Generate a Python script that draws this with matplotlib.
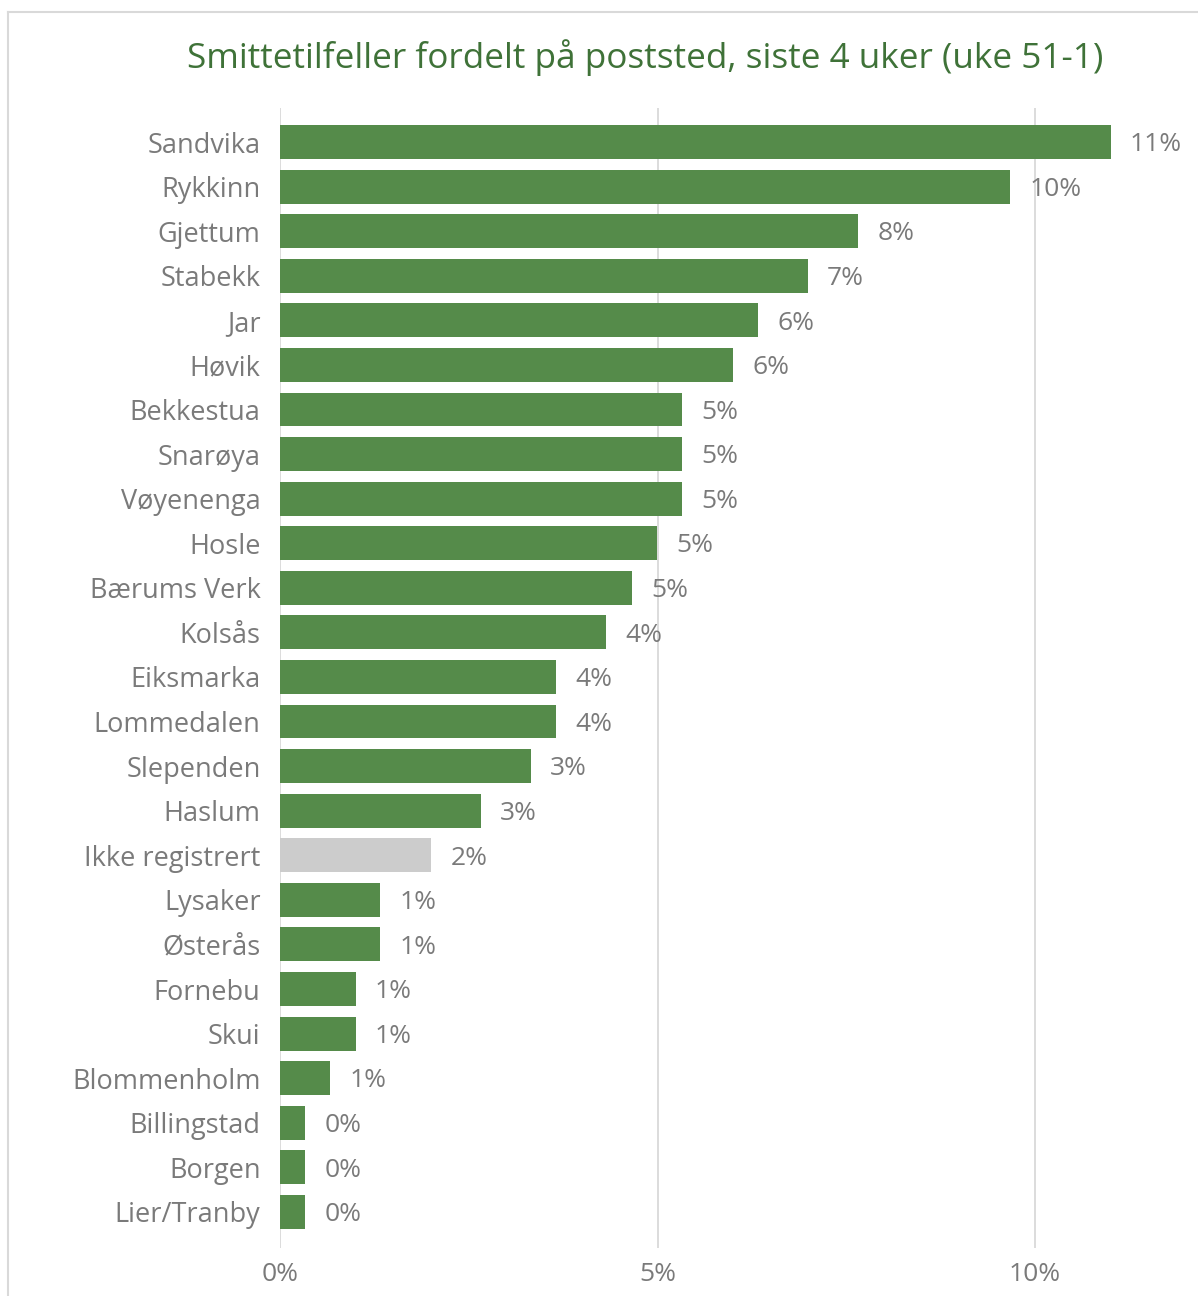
import numpy as np
import matplotlib.pyplot as plt
from matplotlib.lines import Line2D

places = ['Sandvika', 'Rykkinn', 'Gjettum', 'Stabekk', 'Jar', 'Høvik', 'Bekkestua',
          'Snarøya', 'Vøyenenga', 'Hosle', 'Bærums Verk', 'Kolsås', 'Eiksmarka',
          'Lommedalen', 'Slependen', 'Haslum', 'Ikke registrert', 'Lysaker', 'Østerås',
          'Fornebu', 'Skui', 'Blommenholm', 'Billingstad', 'Borgen', 'Lier/Tranby']
share = [11.0, 9.67, 7.66, 6.99, 6.33, 6.0, 5.32, 5.32, 5.32, 4.99, 4.66, 4.32, 3.66,
         3.66, 3.32, 2.66, 2.0, 1.33, 1.33, 1.0, 1.0, 0.66, 0.33, 0.33, 0.33]
labels = ['11%', '10%', '8%', '7%', '6%', '6%', '5%', '5%', '5%', '5%', '5%', '4%', '4%',
          '4%', '3%', '3%', '2%', '1%', '1%', '1%', '1%', '1%', '0%', '0%', '0%']

plt.rcParams['font.family'] = ['Open Sans', 'DejaVu Sans']

green = '#558B4A'
grey_bar = '#CCCCCC'
txt = '#7A7A7A'

W, H = 1198, 1296
fig = plt.figure(figsize=(W / 100, H / 100), dpi=100)
ax = fig.add_axes([280 / W, 1 - 1248 / H, 906 / W, (1248 - 108) / H])

y = np.arange(len(places))
colors = [grey_bar if p == 'Ikke registrert' else green for p in places]
ax.barh(y, share, height=0.76, color=colors, zorder=2)

for yi, v, lab in zip(y, share, labels):
    ax.annotate(lab, (v, yi), xytext=(14, -2), textcoords='offset points',
                va='center', ha='left', fontsize=19, color=txt)

ax.set_xlim(0, 12)
ax.set_ylim(24.81, -0.763)
ax.set_yticks(y)
ax.set_yticklabels(places, fontsize=19.5, color=txt)
ax.set_xticks([0, 5, 10])
ax.set_xticklabels(['0%', '5%', '10%'], fontsize=19, color=txt)
ax.tick_params(length=0)
ax.tick_params(axis='y', pad=14)
ax.tick_params(axis='x', pad=10)
ax.grid(axis='x', color='#D9D9D9', linewidth=1.3, zorder=0)
for s in ax.spines.values():
    s.set_visible(False)

fig.text(645 / W, 1 - 58 / H, 'Smittetilfeller fordelt på poststed, siste 4 uker (uke 51-1)',
         ha='center', va='center', fontsize=25.3, color='#3F7238')

fig.add_artist(Line2D([8 / W, 8 / W], [1 - 12 / H, 0], color='#D9D9D9', linewidth=1.5))
fig.add_artist(Line2D([8 / W, 1], [1 - 12 / H, 1 - 12 / H], color='#D9D9D9', linewidth=1.5))

fig.savefig('out.png', dpi=100)
